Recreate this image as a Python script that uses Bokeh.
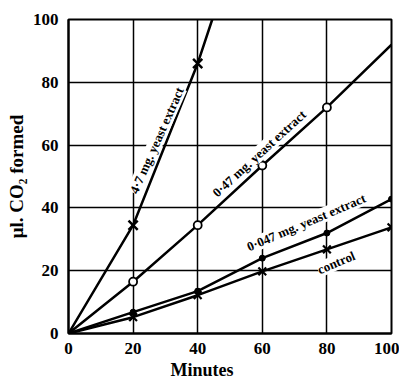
from bokeh.plotting import figure
from bokeh.models import Range1d, FixedTicker, Title
from bokeh.core.properties import value
from bokeh.embed import file_html
from bokeh.resources import INLINE
import math

# --- data ---
minutes_ticks = [0, 20, 40, 60, 80, 100]
co2_ticks = [0, 20, 40, 60, 80, 100]

# 4.7 mg yeast extract (x markers), line runs off the top
y47_x = [0, 20, 40]
y47_y = [0, 34.5, 86]
y47_line_x = [0, 20, 40, 44.5]
y47_line_y = [0, 34.5, 86, 100]

# 0.47 mg yeast extract (open circles)
y047_x = [20, 40, 60, 80]
y047_y = [16.5, 34.5, 53.5, 72]
y047_line_x = [0, 20, 40, 60, 80, 100]
y047_line_y = [0, 16.5, 34.5, 53.5, 72, 92]

# 0.047 mg yeast extract (filled dots)
y0047_x = [20, 40, 60, 80, 100]
y0047_y = [6.8, 13.5, 24, 32, 42.8]

# control (x markers)
ctrl_x = [20, 40, 60, 80, 100]
ctrl_y = [5.2, 12.2, 19.8, 26.8, 33.8]

labels = ["4·7 mg. yeast extract", "0·47 mg. yeast extract",
          "0·047 mg. yeast extract", "control"]
label_x = [27.3, 59.0, 73.6, 82.9]
label_y = [61.5, 57.3, 35.4, 22.6]
label_angle_deg = [66, 42.5, 23, 23]

x_title = "Minutes"
y_title = "μl. CO₂ formed"

FONT = "Liberation Serif"

p = figure(width=399, height=380, output_backend="svg", toolbar_location=None,
           x_range=Range1d(0, 100), y_range=Range1d(0, 100),
           min_border_left=67, min_border_right=8, min_border_top=19,
           min_border_bottom=47)
p.background_fill_color = "white"
p.border_fill_color = "white"
p.outline_line_color = "black"
p.outline_line_width = 2

for ax in (p.xaxis[0], p.yaxis[0]):
    ax.ticker = FixedTicker(ticks=minutes_ticks if ax is p.xaxis[0] else co2_ticks)
    ax.major_tick_line_color = None
    ax.minor_tick_line_color = None
    ax.axis_line_color = "black"
    ax.axis_line_width = 2
    ax.major_label_text_font = FONT
    ax.major_label_text_font_style = "bold"
    ax.major_label_text_font_size = "17px"
    ax.major_label_text_color = "black"

p.xaxis.major_label_standoff = 3
p.yaxis.major_label_standoff = 4

p.xgrid.ticker = FixedTicker(ticks=minutes_ticks)
p.ygrid.ticker = FixedTicker(ticks=co2_ticks)
p.grid.grid_line_color = "black"
p.grid.grid_line_width = 1.5
p.grid.grid_line_alpha = 1

LW = 2.5
p.line(y47_line_x, y47_line_y, line_color="black", line_width=LW)
p.line(y047_line_x, y047_line_y, line_color="black", line_width=LW)
p.line([0] + y0047_x, [0] + y0047_y, line_color="black", line_width=LW)
p.line([0] + ctrl_x, [0] + ctrl_y, line_color="black", line_width=LW)

p.scatter(y47_x[1:], y47_y[1:], marker="x", size=13, line_color="black", line_width=2.5)
p.scatter(y047_x, y047_y, marker="circle", size=8, line_color="black",
          fill_color="white", line_width=1.8)
p.scatter(y0047_x, y0047_y, marker="circle", size=6, line_color="black",
          fill_color="black")
p.scatter(ctrl_x, ctrl_y, marker="x", size=11, line_color="black", line_width=2.2)
p.scatter([0], [0], marker="circle", size=5, fill_color="black", line_color="black")

p.text(x=label_x, y=label_y, text=labels,
       angle=[math.radians(a) for a in label_angle_deg],
       text_font=value(FONT), text_font_style="bold", text_font_size="13px",
       text_align="center", text_baseline="middle", text_color="black",
       background_fill_color="white", background_fill_alpha=1)

# axis titles as Titles so they can sit off-centre like the original
p.add_layout(Title(text=x_title, align="left", offset=102, standoff=2,
                   text_font=FONT, text_font_style="bold",
                   text_font_size="18px", text_color="black"), "below")
p.add_layout(Title(text=y_title, align="center", standoff=6,
                   text_font=FONT, text_font_style="bold",
                   text_font_size="19px", text_color="black"), "left")

open("out.html", "w").write(file_html(p, INLINE))
